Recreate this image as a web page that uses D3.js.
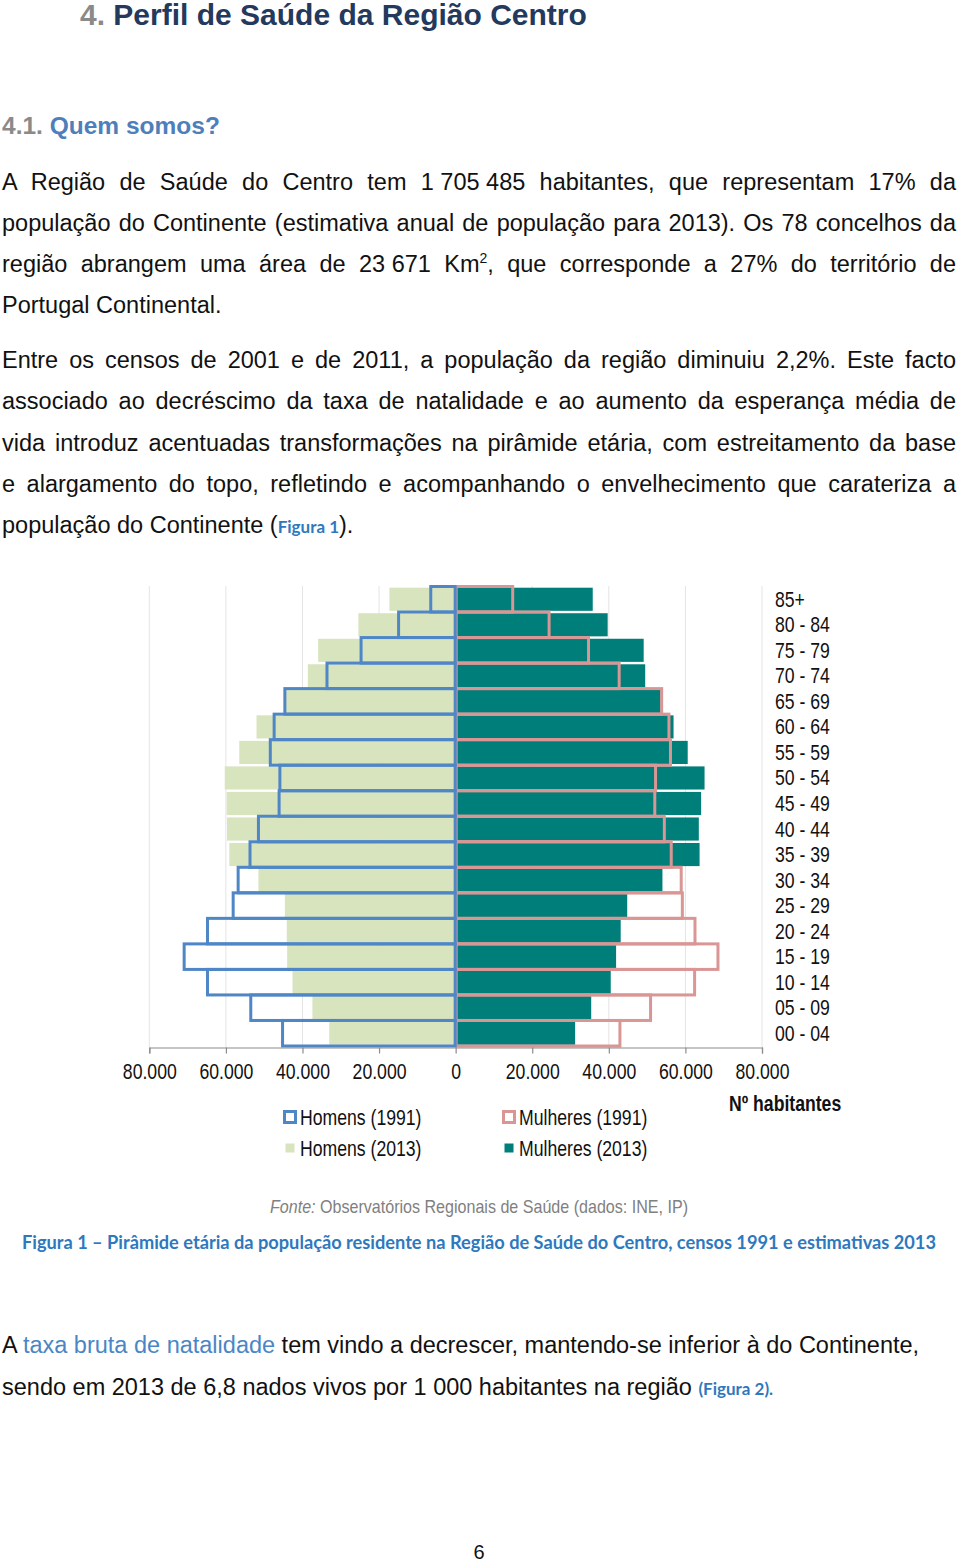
<!DOCTYPE html>
<html><head><meta charset="utf-8">
<script src="https://cdn.jsdelivr.net/npm/d3@7"></script>
<style>
html,body{margin:0;padding:0;background:#fff;}
#page{position:relative;width:960px;height:1562px;overflow:hidden;}
svg{position:absolute;left:0;top:0;}
.ln{position:absolute;left:2px;width:954px;font-family:"Liberation Sans",Arial,sans-serif;font-size:23.5px;line-height:28px;color:#111;white-space:nowrap;}
.j{text-align:justify;text-align-last:justify;}
.l{text-align:left;}
.nb{display:inline-block;}
.blue{color:#4a86c5;}
.fig{font-family:Lato,"Open Sans",sans-serif;font-weight:700;font-size:17px;color:#2e78be;}
sup{font-size:14px;line-height:0;vertical-align:9px;}
</style></head>
<body><div id="page"></div>
<script>
// ---- data ----
const ageGroups = ["85+","80 - 84","75 - 79","70 - 74","65 - 69","60 - 64","55 - 59","50 - 54","45 - 49","40 - 44","35 - 39","30 - 34","25 - 29","20 - 24","15 - 19","10 - 14","05 - 09","00 - 04"];
const homens1991 = [6500,14900,24700,33600,44600,47400,48400,45900,46100,51500,53700,56800,58100,64800,70900,64800,53500,45200];
const homens2013 = [17300,25400,35900,38600,44300,52000,56500,60300,59800,59700,59100,51500,44600,44100,44000,42600,37400,33000];
const mulheres1991 = [14900,24400,34700,42700,53800,55700,56100,52200,52000,54500,56300,58900,59200,62500,68500,62400,50900,42900];
const mulheres2013 = [35800,39700,49100,49500,53500,56900,60600,65000,64100,63500,63700,54000,44800,43100,41900,40500,35400,31200];
const tickValues = [-80000,-60000,-40000,-20000,0,20000,40000,60000,80000];
const legendLabels = ["Homens (1991)","Mulheres (1991)","Homens (2013)","Mulheres (2013)"];

const C = {m13:"#d7e4bd", f13:"#007f7a", m91:"#4f86c6", f91:"#d99694", grid:"#e4e4e4", axis:"#8c8c8c"};
const narrow = '"Liberation Sans Narrow","Arial Narrow","Liberation Sans",Arial,sans-serif';
const SX = 0.82; // horizontal condensing to mimic a narrow face

const page = d3.select("#page");
const svg = page.append("svg").attr("width",960).attr("height",1562);

// ---- headings ----
const h = svg.append("text").attr("x",80).attr("y",25)
  .style("font-family",'"Liberation Sans",Arial,sans-serif').style("font-weight","700").style("font-size","30px");
h.append("tspan").attr("fill","#8a8a8a").text("4. ");
h.append("tspan").attr("fill","#23395d").text("Perfil de Saúde da Região Centro");

const h2 = svg.append("text").attr("x",2).attr("y",134)
  .style("font-family",'"Liberation Sans",Arial,sans-serif').style("font-weight","700").style("font-size","24.5px");
h2.append("tspan").attr("fill","#8a8a8a").text("4.1. ");
h2.append("tspan").attr("fill","#4f7fba").text("Quem somos?");

// ---- body text lines ----
const lines = [
  {y:182, c:"j", html:'A Região de Saúde do Centro tem <span class="nb">1 705 485</span> habitantes, que representam 17% da'},
  {y:223, c:"j", html:'população do Continente (estimativa anual de população para 2013). Os 78 concelhos da'},
  {y:264, c:"j", html:'região abrangem uma área de <span class="nb">23 671</span> Km<sup>2</sup>, que corresponde a 27% do território de'},
  {y:305, c:"l", html:'Portugal Continental.'},
  {y:360, c:"j", html:'Entre os censos de 2001 e de 2011, a população da região diminuiu 2,2%. Este facto'},
  {y:401, c:"j", html:'associado ao decréscimo da taxa de natalidade e ao aumento da esperança média de'},
  {y:443, c:"j", html:'vida introduz acentuadas transformações na pirâmide etária, com estreitamento da base'},
  {y:484, c:"j", html:'e alargamento do topo, refletindo e acompanhando o envelhecimento que carateriza a'},
  {y:525, c:"l", html:'população do Continente (<span class="fig">Figura 1</span>).'},
  {y:1345, c:"l", html:'A <span class="blue">taxa bruta de natalidade</span> tem vindo a decrescer, mantendo-se inferior à do Continente,'},
  {y:1387, c:"l", html:'sendo em 2013 de 6,8 nados vivos por <span class="nb">1 000</span> habitantes na região <span class="fig">(Figura 2).</span>'}
];
lines.forEach(d=>{
  page.append("div").attr("class","ln "+d.c).style("top",(d.y-14)+"px").html(d.html);
});

// ---- chart ----
const x = d3.scaleLinear().domain([-80000,80000]).range([149.3,762]);
const y = d3.scaleBand().domain(ageGroups).range([586.5,1046]).padding(0);
const g = svg.append("g");

// gridlines
g.selectAll("line.grid").data(tickValues.filter(v=>v!==0)).join("line")
  .attr("x1",d=>x(d)).attr("x2",d=>x(d)).attr("y1",586).attr("y2",1047)
  .attr("stroke",C.grid).attr("stroke-width",1);

// 2013 fills
const fillPad = 1.2;
g.selectAll("rect.m13").data(ageGroups).join("rect")
  .attr("x",(d,i)=>x(-homens2013[i])).attr("width",(d,i)=>x(0)-x(-homens2013[i]))
  .attr("y",d=>y(d)+fillPad).attr("height",y.bandwidth()-2*fillPad).attr("fill",C.m13);
g.selectAll("rect.f13").data(ageGroups).join("rect")
  .attr("x",x(0)).attr("width",(d,i)=>x(mulheres2013[i])-x(0))
  .attr("y",d=>y(d)+fillPad).attr("height",y.bandwidth()-2*fillPad).attr("fill",C.f13);

// 1991 outlines
g.selectAll("rect.f91").data(ageGroups).join("rect")
  .attr("x",x(0)+0.5).attr("width",(d,i)=>x(mulheres1991[i])-x(0)-0.5)
  .attr("y",d=>y(d)).attr("height",y.bandwidth())
  .attr("fill","none").attr("stroke",C.f91).attr("stroke-width",3);
g.selectAll("rect.m91").data(ageGroups).join("rect")
  .attr("x",(d,i)=>x(-homens1991[i])).attr("width",(d,i)=>x(0)-x(-homens1991[i])-0.5)
  .attr("y",d=>y(d)).attr("height",y.bandwidth())
  .attr("fill","none").attr("stroke",C.m91).attr("stroke-width",3);

// axis
const fmt = d3.formatLocale({decimal:",",thousands:".",grouping:[3],currency:["","€"]}).format(",");
const axis = d3.axisBottom(x).tickValues(tickValues).tickSize(6).tickPadding(10)
  .tickFormat(d=>fmt(Math.abs(d)));
const ax = svg.append("g").attr("transform","translate(0,1047.5)").call(axis);
ax.select(".domain").attr("stroke",C.axis).attr("stroke-width",1.2);
ax.selectAll(".tick line").attr("stroke",C.axis).attr("stroke-width",1.2);
ax.selectAll(".tick text").attr("fill","#111").style("font-family",narrow).style("font-size","21.5px")
  .attr("dy","0.72em").attr("transform",`scale(${SX},1)`);

// age labels
svg.append("g").selectAll("text").data(ageGroups).join("text")
  .attr("transform",d=>`translate(775,${y(d)+y.bandwidth()/2+7.5}) scale(${SX},1)`)
  .style("font-family",narrow).style("font-size","21.5px").attr("fill","#111").text(d=>d);

// axis title
svg.append("text").attr("transform",`translate(729,1111) scale(${SX},1)`)
  .style("font-family",narrow).style("font-size","21.5px").style("font-weight","700").attr("fill","#111")
  .text("Nº habitantes");

// legend
const leg = [
  {label:legendLabels[0], x:283, y:1117, kind:"o", col:C.m91},
  {label:legendLabels[1], x:502, y:1117, kind:"o", col:C.f91},
  {label:legendLabels[2], x:283, y:1148, kind:"f", col:C.m13},
  {label:legendLabels[3], x:502, y:1148, kind:"f", col:C.f13}
];
const lg = svg.append("g").selectAll("g").data(leg).join("g");
lg.append("rect")
  .attr("x",d=>d.kind==="o"?d.x+1.5:d.x+2.5).attr("y",d=>d.kind==="o"?d.y-5.5:d.y-4.5)
  .attr("width",d=>d.kind==="o"?11:9).attr("height",d=>d.kind==="o"?11:9)
  .attr("fill",d=>d.kind==="o"?"#fff":d.col).attr("stroke",d=>d.kind==="o"?d.col:"none").attr("stroke-width",3);
lg.append("text").attr("transform",d=>`translate(${d.x+17},${d.y+7.5}) scale(${SX},1)`)
  .style("font-family",narrow).style("font-size","21.5px").attr("fill","#111").text(d=>d.label);

// source
const src = svg.append("text").attr("x",270).attr("y",1213).attr("textLength",418).attr("lengthAdjust","spacingAndGlyphs")
  .style("font-family",narrow).style("font-size","18.5px").attr("fill","#808080");
src.append("tspan").style("font-style","italic").text("Fonte:");
src.append("tspan").text(" Observatórios Regionais de Saúde (dados: INE, IP)");

// caption
svg.append("text").attr("x",22).attr("y",1249).attr("textLength",914).attr("lengthAdjust","spacingAndGlyphs")
  .style("font-family","Lato,'Open Sans',sans-serif").style("font-weight","700").style("font-size","18px").attr("fill","#2e78be")
  .text("Figura 1 – Pirâmide etária da população residente na Região de Saúde do Centro, censos 1991 e estimativas 2013");

// page number
svg.append("text").attr("x",479).attr("y",1559).attr("text-anchor","middle")
  .style("font-family",'"Liberation Sans",Arial,sans-serif').style("font-size","20px").attr("fill","#111").text("6");
</script></body></html>
